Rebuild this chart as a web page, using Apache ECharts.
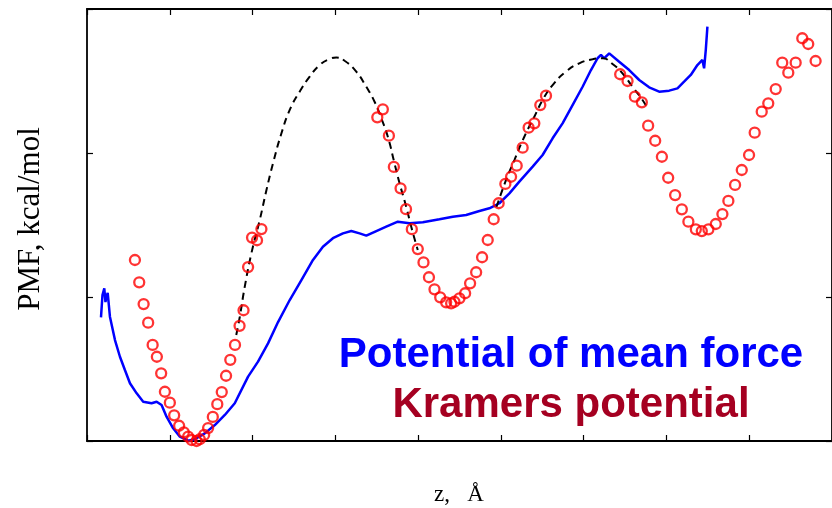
<!DOCTYPE html>
<html>
<head>
<meta charset="utf-8">
<script src="https://cdn.jsdelivr.net/npm/echarts@6/dist/echarts.min.js"></script>
<style>
  html, body { margin: 0; padding: 0; background: #fff; }
  #chart { width: 832px; height: 508px; }
</style>
</head>
<body>
<div id="chart"></div>
<script>
// axis range (no tick labels on the original, ticks every 1 unit)
var zTicks = [0, 9, 1];
var eTicks = [0, 3, 1];

// potential of mean force (blue line)
var pmfZ = [0.169, 0.187, 0.209, 0.223, 0.238, 0.250, 0.277, 0.338, 0.398, 0.458, 0.519, 0.600, 0.679, 0.780, 0.841, 0.901,
  0.961, 1.041, 1.122, 1.222, 1.303, 1.423, 1.544, 1.665, 1.785, 1.946, 2.066, 2.187, 2.308, 2.449, 2.590, 2.730,
  2.850, 2.971, 3.092, 3.193, 3.293, 3.374, 3.495, 3.615, 3.755, 3.896, 4.057, 4.258, 4.419, 4.580, 4.741, 4.861,
  4.982, 5.103, 5.223, 5.384, 5.504, 5.625, 5.745, 5.866, 5.987, 6.088, 6.168, 6.209, 6.248, 6.309, 6.429, 6.550,
  6.671, 6.791, 6.912, 7.033, 7.133, 7.213, 7.294, 7.374, 7.434, 7.455, 7.475, 7.495];
var pmfE = [0.859, 1.014, 1.060, 0.965, 1.007, 1.028, 0.863, 0.701, 0.585, 0.493, 0.401, 0.331, 0.273, 0.262, 0.273, 0.250,
  0.169, 0.088, 0.030, 0.002, 0.012, 0.053, 0.111, 0.181, 0.262, 0.447, 0.551, 0.678, 0.826, 0.979, 1.118, 1.257,
  1.349, 1.408, 1.442, 1.458, 1.442, 1.426, 1.458, 1.488, 1.523, 1.512, 1.519, 1.540, 1.558, 1.569, 1.597, 1.616,
  1.651, 1.720, 1.801, 1.905, 1.986, 2.102, 2.206, 2.333, 2.460, 2.576, 2.658, 2.681, 2.658, 2.692, 2.634, 2.576,
  2.507, 2.456, 2.426, 2.433, 2.449, 2.495, 2.542, 2.611, 2.646, 2.588, 2.715, 2.877];

// Kramers potential (red circles)
var kramZ = [0.579, 0.631, 0.684, 0.739, 0.793, 0.844, 0.896, 0.941, 1.001, 1.053, 1.113, 1.170, 1.222, 1.263, 1.323, 1.363,
  1.415, 1.463, 1.520, 1.574, 1.628, 1.680, 1.731, 1.788, 1.843, 1.891, 1.946, 1.994, 2.054, 2.107,
  3.507, 3.574, 3.647, 3.707, 3.788, 3.854, 3.924, 3.996, 4.065, 4.131, 4.198, 4.267, 4.339, 4.399, 4.439, 4.499,
  4.568, 4.628, 4.701, 4.773, 4.841, 4.913, 4.973, 5.054, 5.123, 5.191, 5.263, 5.335, 5.404, 5.476, 5.545,
  6.441, 6.530, 6.619, 6.703, 6.779, 6.864, 6.945, 7.021, 7.105, 7.186, 7.265, 7.355, 7.427, 7.507, 7.596, 7.676,
  7.748, 7.829, 7.910, 7.998, 8.066, 8.151, 8.230, 8.320, 8.399, 8.472, 8.561, 8.641, 8.713, 8.802];
var kramE = [1.257, 1.102, 0.951, 0.822, 0.667, 0.585, 0.470, 0.342, 0.266, 0.178, 0.106, 0.060, 0.030, 0.007, 0.000, 0.012,
  0.042, 0.090, 0.167, 0.256, 0.340, 0.453, 0.564, 0.667, 0.800, 0.908, 1.208, 1.413, 1.394, 1.472,
  2.248, 2.303, 2.120, 1.903, 1.755, 1.610, 1.471, 1.333, 1.240, 1.137, 1.053, 0.998, 0.963, 0.956, 0.967, 0.991,
  1.026, 1.095, 1.172, 1.276, 1.396, 1.540, 1.651, 1.785, 1.835, 1.912, 2.037, 2.176, 2.206, 2.333, 2.398,
  2.547, 2.500, 2.391, 2.352, 2.190, 2.085, 1.974, 1.828, 1.708, 1.609, 1.523, 1.470, 1.458, 1.470, 1.507, 1.576,
  1.667, 1.778, 1.882, 1.986, 2.141, 2.287, 2.345, 2.444, 2.627, 2.558, 2.627, 2.797, 2.757, 2.639];

// barrier fits (black dashed)
var fitAZ = [1.803, 1.846, 1.906, 1.987, 2.087, 2.168, 2.247, 2.349, 2.449, 2.569, 2.690, 2.811, 2.931, 3.012, 3.112,
  3.253, 3.374, 3.474, 3.555, 3.634, 3.715, 3.776, 3.856, 3.917, 3.996];
var fitAE = [0.736, 0.863, 1.072, 1.306, 1.535, 1.743, 1.928, 2.137, 2.299, 2.426, 2.530, 2.611, 2.653, 2.663, 2.641,
  2.565, 2.460, 2.356, 2.241, 2.113, 1.928, 1.790, 1.627, 1.488, 1.326];
var fitBZ = [4.946, 5.063, 5.163, 5.283, 5.404, 5.504, 5.625, 5.786, 5.947, 6.107, 6.228, 6.349, 6.469, 6.590, 6.711, 6.771];
var fitBE = [1.625, 1.813, 1.951, 2.113, 2.252, 2.368, 2.472, 2.565, 2.623, 2.651, 2.658, 2.618, 2.553, 2.460, 2.368, 2.310];

var pmfLabel = 'Potential of mean force';
var kramLabel = 'Kramers potential';
var xTitle = 'z,\u2002 Å';
var yTitle = 'PMF, kcal/mol';

function pairs(xs, ys){
  var out = [];
  for (var i = 0; i < xs.length; i++) out.push([xs[i], ys[i]]);
  return out;
}

function frameAxis(range, pos, extra){
  var ax = {
    type: 'value', position: pos,
    min: range[0], max: range[1], interval: range[2],
    axisLine: { show: true, onZero: false, lineStyle: { color: '#000', width: 1.8 } },
    axisTick: { show: true, inside: true, length: 6, lineStyle: { color: '#000', width: 1.2 } },
    axisLabel: { show: false },
    splitLine: { show: false }
  };
  return Object.assign(ax, extra || {});
}

var chart = echarts.init(document.getElementById('chart'), null, { renderer: 'canvas' });

var dashStyle = { color: '#000', width: 2, type: [7, 5] };

chart.setOption({
  animation: false,
  backgroundColor: '#fff',
  grid: { left: 87, top: 9, width: 746, height: 432, containLabel: false },
  xAxis: [frameAxis(zTicks, 'bottom'), frameAxis(zTicks, 'top')],
  yAxis: [frameAxis(eTicks, 'left'), frameAxis(eTicks, 'right')],
  series: [
    {
      type: 'line', data: pairs(pmfZ, pmfE), showSymbol: false, z: 3,
      lineStyle: { color: '#0000ff', width: 2.5 }
    },
    {
      type: 'line', data: pairs(fitAZ, fitAE), showSymbol: false, smooth: true, z: 4,
      lineStyle: dashStyle
    },
    {
      type: 'line', data: pairs(fitBZ, fitBE), showSymbol: false, smooth: true, z: 4,
      lineStyle: dashStyle
    },
    {
      type: 'scatter', data: pairs(kramZ, kramE), symbol: 'circle', symbolSize: 10, z: 5,
      itemStyle: { color: 'rgba(0,0,0,0)', borderColor: '#ff0000', borderWidth: 2.3 }
    }
  ],
  graphic: [
    {
      type: 'text', x: 571, y: 355,
      style: { text: pmfLabel, fill: '#0000ff', font: 'bold 42px "Liberation Sans", Arial, sans-serif',
        textAlign: 'center', textVerticalAlign: 'middle' }
    },
    {
      type: 'text', x: 571, y: 405,
      style: { text: kramLabel, fill: '#a50021', font: 'bold 42px "Liberation Sans", Arial, sans-serif',
        textAlign: 'center', textVerticalAlign: 'middle' }
    },
    {
      type: 'text', x: 459, y: 495,
      style: { text: xTitle, fill: '#000', font: '23px "Liberation Serif", serif',
        textAlign: 'center', textVerticalAlign: 'middle' }
    },
    {
      type: 'text', x: 31, y: 219, rotation: Math.PI / 2,
      style: { text: yTitle, fill: '#000', font: '31px "Liberation Serif", serif',
        textAlign: 'center', textVerticalAlign: 'middle' }
    }
  ]
});
</script>
</body>
</html>
